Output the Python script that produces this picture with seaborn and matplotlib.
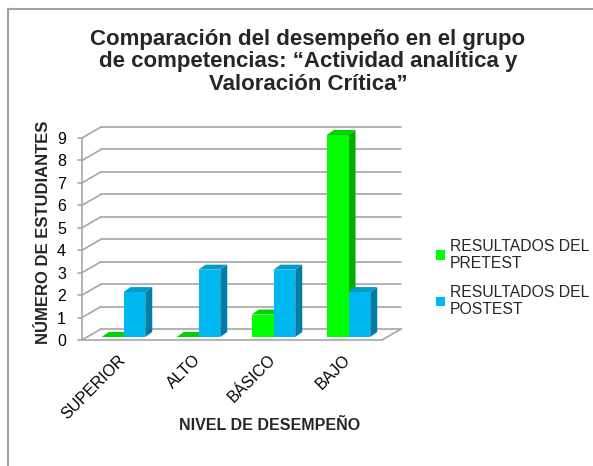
import numpy as np
import pandas as pd
import matplotlib
matplotlib.use("Agg")
import matplotlib.pyplot as plt
import matplotlib.transforms as mtransforms
from matplotlib.patches import Polygon, Patch
from matplotlib.lines import Line2D
import seaborn as sns

categories = ["SUPERIOR", "ALTO", "BÁSICO", "BAJO"]
pretest = [0, 0, 1, 9]
postest = [2, 3, 3, 2]
series_names = ["RESULTADOS DEL PRETEST", "RESULTADOS DEL POSTEST"]
legend_labels = ["RESULTADOS DEL\nPRETEST", "RESULTADOS DEL\nPOSTEST"]
yticks = list(range(0, 10))

title = "Comparación del desempeño en el grupo\nde competencias: “Actividad analítica y\nValoración Crítica”"
xlabel = "NIVEL DE DESEMPEÑO"
ylabel = "NÚMERO DE ESTUDIANTES"

front_colors = ["#00FF00", "#00B8F0"]
top_colors = ["#00D400", "#009CCC"]
side_colors = ["#00AE00", "#007FA6"]

sns.set_theme(style="white")
plt.rcParams["font.family"] = ["Liberation Sans", "DejaVu Sans"]

df = pd.DataFrame({
    "cat": categories * 2,
    "serie": [series_names[0]] * 4 + [series_names[1]] * 4,
    "val": pretest + postest,
})

W, H = 593, 466
fig = plt.figure(figsize=(W / 100, H / 100), dpi=100)
fig.patch.set_facecolor("white")

# axes = bar front plane
ax_left, ax_w = 86, 300
y0_px, y9_px = 337, 135
ax = fig.add_axes([ax_left / W, (H - y0_px) / H, ax_w / W, (y0_px - y9_px) / H])
ax.set_facecolor("none")

sns.barplot(data=df, x="cat", y="val", hue="serie", order=categories,
            hue_order=series_names, palette=front_colors, width=0.58,
            saturation=1, ax=ax, legend=False, zorder=3, linewidth=0)

ax.set_xlim(-0.5, 3.5)
ax.set_ylim(0, 9)
for s in ax.spines.values():
    s.set_visible(False)
ax.set_xlabel("")
ax.set_ylabel("")

# 3D-ish frame
back = mtransforms.offset_copy(ax.transData, fig=fig, x=15, y=8, units="dots")
front = mtransforms.offset_copy(ax.transData, fig=fig, x=-4, y=-3, units="dots")
ident = mtransforms.IdentityTransform()
gcol = "#A6A6A6"
lw = 1.2
for yv in yticks:
    ax.plot([-0.5, 3.5], [yv, yv], transform=back, color=gcol, lw=lw, zorder=1, clip_on=False)
    p_front = front.transform((-0.5, yv))
    p_back = back.transform((-0.5, yv))
    ax.add_line(Line2D([p_front[0], p_back[0]], [p_front[1], p_back[1]],
                       transform=ident, color=gcol, lw=lw, zorder=1, clip_on=False))
    ax.add_line(Line2D([p_front[0] - 4, p_front[0]], [p_front[1], p_front[1]],
                       transform=ident, color=gcol, lw=lw, zorder=1, clip_on=False))
ax.plot([-0.5, -0.5], [0, 9], transform=front, color=gcol, lw=lw, zorder=2, clip_on=False)
ax.plot([-0.5, 3.5], [0, 0], transform=front, color=gcol, lw=lw, zorder=2, clip_on=False)
pf = front.transform((3.5, 0))
pb = back.transform((3.5, 0))
ax.add_line(Line2D([pf[0], pb[0]], [pf[1], pb[1]],
                   transform=ident, color=gcol, lw=lw, zorder=2, clip_on=False))

# bar depth faces
dx, dy = 7, 5
bars = [p for p in ax.patches]
for i, p in enumerate(bars):
    s = 0 if i < len(categories) else 1
    x0 = p.get_x()
    x1 = x0 + p.get_width()
    h = p.get_height()
    a = ax.transData.transform((x0, h))
    b = ax.transData.transform((x1, h))
    c = ax.transData.transform((x1, 0))
    top = Polygon([a, b, b + [dx, dy], a + [dx, dy]], closed=True,
                  transform=ident, facecolor=top_colors[s],
                  edgecolor="none", zorder=3 + 0.1 * s, clip_on=False)
    side = Polygon([c, b, b + [dx, dy], c + [dx, dy]], closed=True,
                   transform=ident, facecolor=side_colors[s],
                   edgecolor="none", zorder=3 + 0.1 * s, clip_on=False)
    ax.add_patch(side)
    ax.add_patch(top)
    p.set_zorder(3.05 + 0.1 * s)
    p.set_clip_on(False)

# ticks
ax.set_yticks(yticks)
ax.set_yticklabels([str(v) for v in yticks], fontsize=11.5, color="black")
ax.tick_params(axis="y", length=0, pad=14.5)
shift = mtransforms.ScaledTranslation(0, -3 / 100, fig.dpi_scale_trans)
for lab in ax.get_yticklabels():
    lab.set_transform(lab.get_transform() + shift)
ax.set_xticks(range(len(categories)))
ax.set_xticklabels(categories, rotation=45, ha="right", va="top",
                   rotation_mode="anchor", fontsize=11.5, color="black")
ax.tick_params(axis="x", length=0, pad=11)
xshift = mtransforms.ScaledTranslation(-6 / 100, 0, fig.dpi_scale_trans)
for lab in ax.get_xticklabels():
    lab.set_transform(lab.get_transform() + xshift)

# labels
fig.text(270 / W, 1 - 425 / H, xlabel, ha="center", va="center",
         fontsize=11.5, fontweight="bold")
fig.text(44 / W, 1 - 232 / H, ylabel, ha="center", va="center", rotation=90,
         fontsize=12, fontweight="bold")
fig.text(308 / W, 1 - 62 / H, title, ha="center", va="center",
         fontsize=16, fontweight="bold", linespacing=1.12)

# legend
handles = [Patch(facecolor=c, edgecolor="none") for c in front_colors]
fig.legend(handles, legend_labels, loc="center left",
           bbox_to_anchor=(422 / W, 1 - 278 / H), frameon=False,
           fontsize=11.3, handlelength=0.55, handleheight=0.55,
           handletextpad=0.35, labelspacing=0.9)

# chart border (left and top)
fig.add_artist(Line2D([8 / W, 8 / W], [0, 1 - 9 / H], color="#A0A0A0", lw=1.5,
                      transform=fig.transFigure))
fig.add_artist(Line2D([8 / W, 1], [1 - 9 / H, 1 - 9 / H], color="#A0A0A0", lw=1.5,
                      transform=fig.transFigure))

fig.savefig("out.png", dpi=100)
